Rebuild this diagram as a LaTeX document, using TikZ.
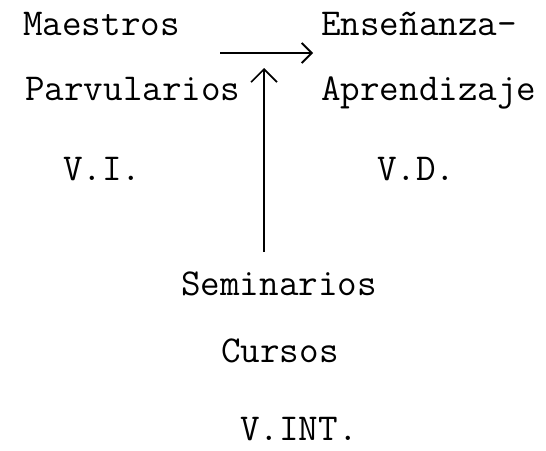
\documentclass[tikz,border=0pt]{standalone}
\usetikzlibrary{arrows.meta,positioning}

\begin{document}
\begin{tikzpicture}[x=1pt,y=-1pt,
		txt/.style={font=\ttfamily\fontsize{38}{43}\selectfont,inner sep=0pt,anchor=base west},
		flecha/.style={line width=1.8pt,-{Straight Barb[length=10pt,width=20pt,line width=1.8pt]}}]
	\useasboundingbox (0,0) rectangle (546,450);
	\node[txt] (maestros) at (23,35) {Maestros};
	\node[txt] (parvularios) at (25,100) {Parvularios};
	\node[txt] (ensenanza) at (321,35) {Enseñanza-};
	\node[txt] (aprendizaje) at (321,100) {Aprendizaje};
	\node[txt] (vi) at (63,180) {V.I.};
	\node[txt] (vd) at (377,180) {V.D.};
	\node[txt] (seminarios) at (181,295) {Seminarios};
	\node[txt] (cursos) at (221,362) {Cursos};
	\node[txt] (vint) at (240,440) {V.INT.};
	\coordinate (ini) at (220,53);
	\coordinate (fin) at (313,53);
	\coordinate (tope) at (264,68);
	\coordinate (base) at (264,252);
	\draw[flecha] (ini) -- (fin);
	\draw[flecha,line width=1.4pt,-{Straight Barb[length=13pt,width=26pt,line width=1.6pt]}] (base) -- (tope);
\end{tikzpicture}
\end{document}
